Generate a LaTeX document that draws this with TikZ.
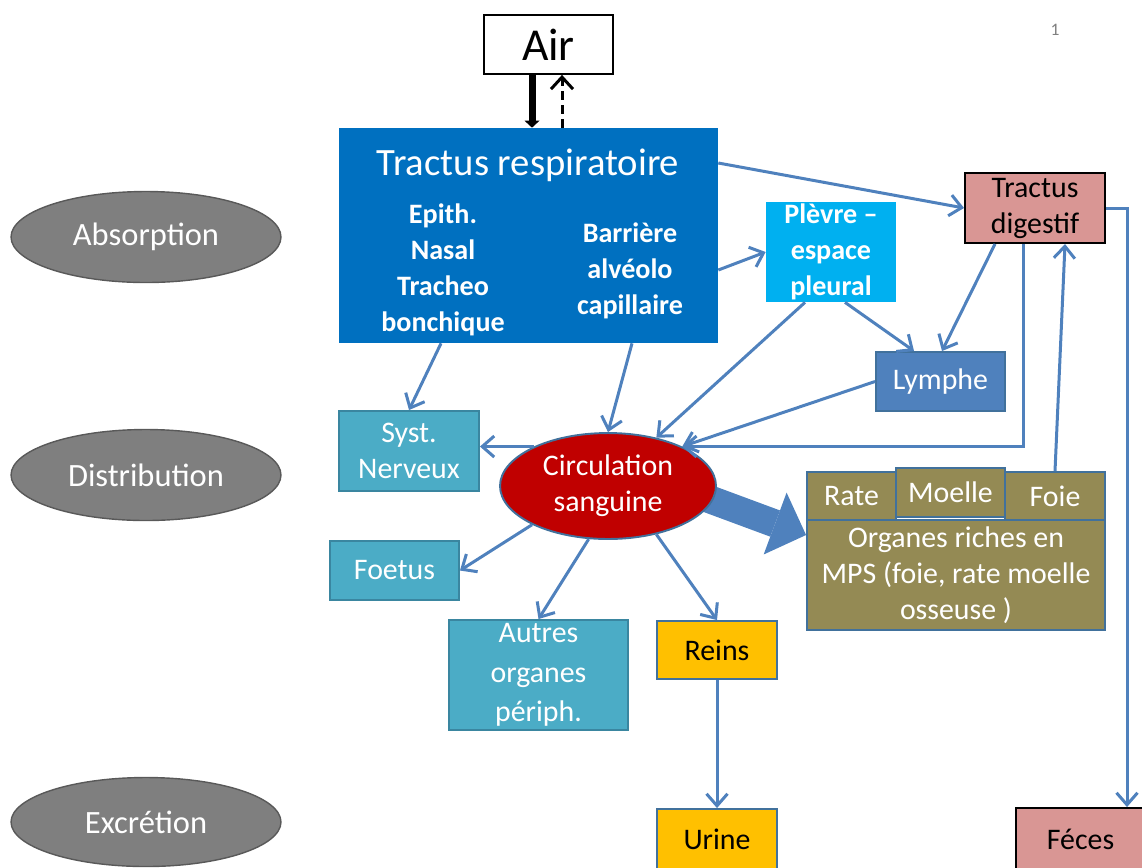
\documentclass[tikz,border=0pt]{standalone}
\usepackage{fontspec}
\setmainfont{Carlito}
\usetikzlibrary{arrows.meta,shapes.geometric}

\definecolor{respblue}{HTML}{0070C0}
\definecolor{plevblue}{HTML}{00B0F0}
\definecolor{lymblue}{HTML}{4F81BD}
\definecolor{linkblue}{HTML}{4F81BD}
\definecolor{edgeblue}{HTML}{41719C}
\definecolor{tealbox}{HTML}{4BACC6}
\definecolor{tealedge}{HTML}{3A86A0}
\definecolor{circred}{HTML}{C00000}
\definecolor{olivebox}{HTML}{948A54}
\definecolor{yellowbox}{HTML}{FFC000}
\definecolor{pinkbox}{HTML}{D99694}
\definecolor{phasegrey}{HTML}{7F7F7F}
\definecolor{phaseedge}{HTML}{595959}

\tikzset{
  txt/.style={font=\fontsize{17}{20.5}\selectfont},
  box/.style={draw=edgeblue, line width=1.1pt, fill=#1, align=center, inner sep=0pt, txt},
  boldtxt/.style={text=white, align=center, inner sep=0pt, font=\fontsize{16}{20.4}\selectfont\bfseries},
  phase/.style={ellipse, draw=phaseedge, line width=0.8pt, fill=phasegrey, text=white,
    minimum width=5.4cm, minimum height=1.82cm, font=\fontsize{18.5}{22}\selectfont},
  link/.style={draw=linkblue, line width=0.06cm, -{Straight Barb[length=0.24cm,width=0.42cm]}},
}

\begin{document}
\begin{tikzpicture}[x=0.02cm, y=-0.02cm]
  \useasboundingbox (0,0) rectangle (1142,867);

  % phases
  \node (absorp) at (146,237) [phase] {Absorption};
  \node (distrib) at (146,475) [phase] {Distribution};
  \node (excret) at (146,822) [phase, minimum height=1.78cm] {Excrétion};
  \node (pagenum) at (1055,30) [text=gray, font=\fontsize{10}{12}\selectfont] {1};

  % absorption
  \node (air) at (548.5,44.5) [draw, line width=1pt, minimum width=2.58cm, minimum height=1.18cm, font=\fontsize{26}{30}\selectfont] {Air};
  \node (resp) at (528.5,235.5) [fill=respblue, minimum width=7.58cm, minimum height=4.3cm] {};
  \node (resptitle) at (528,165) [text=white, font=\fontsize{22}{26}\selectfont] {Tractus respiratoire};
  \node (epith) at (443,270) [boldtxt] {Epith.\\Nasal\\Tracheo\\bonchique};
  \node (barrier) at (630,271) [boldtxt] {Barrière\\alvéolo\\capillaire};
  \node (plevre) at (831,252) [fill=plevblue, minimum width=2.6cm, minimum height=2cm] {};
  \node (plevtxt) at (831,252) [boldtxt, font=\fontsize{16}{20.4}\selectfont\bfseries] {Plèvre --\\espace\\pleural};
  \node (digest) at (1035,208) [box=pinkbox, draw=black, minimum width=2.8cm, minimum height=1.4cm] {Tractus\\digestif};
  \node (lymphe) at (940.5,381.5) [box=lymblue, text=white, minimum width=2.58cm, minimum height=1.18cm] {Lymphe};

  % distribution
  \coordinate (mpsout) at (690,492);
  \node (mps) at (956,575) [box=olivebox, text=white, minimum width=5.96cm, minimum height=2.2cm] {Organes riches en\\MPS (foie, rate moelle\\osseuse )};
  \draw[lymblue, line width=0.56cm, -{Triangle[length=0.66cm,width=1.32cm,line width=0pt]}] (mpsout) -- (mps.west |- 0,535);
  \node (circ) at (608,486) [ellipse, draw=edgeblue, line width=1.1pt, fill=circred, text=white, align=center, minimum width=4.32cm, minimum height=2.12cm, inner sep=0pt, txt] {Circulation\\sanguine};
  \node (nerv) at (409,451) [box=tealbox, draw=tealedge, text=white, minimum width=2.8cm, minimum height=1.6cm] {Syst.\\Nerveux};
  \node (foetus) at (394.5,570.5) [box=tealbox, draw=tealedge, text=white, minimum width=2.58cm, minimum height=1.18cm] {Foetus};
  \node (autres) at (538.5,675) [box=tealbox, draw=tealedge, text=white, minimum width=3.58cm, minimum height=2.2cm, font=\fontsize{17}{22.5}\selectfont] {Autres\\organes\\périph.};
  \node (rate) at (851.5,496) [box=olivebox, text=white, minimum width=1.78cm, minimum height=0.96cm] {Rate};
  \node (moelle) at (950.5,492.5) [box=olivebox, text=white, minimum width=2.18cm, minimum height=0.98cm] {Moelle};
  \node (foie) at (1055,496) [box=olivebox, text=white, minimum width=2cm, minimum height=0.96cm] {Foie};

  % excretion
  \node (reins) at (717,650) [box=yellowbox, minimum width=2.4cm, minimum height=1.16cm] {Reins};
  \node (urine) at (717,839) [box=yellowbox, minimum width=2.4cm, minimum height=1.2cm] {Urine};
  \node (feces) at (1080.5,839) [box=pinkbox, draw=black, minimum width=2.58cm, minimum height=1.24cm] {Féces};

  % air exchange
  \draw[line width=0.14cm, -{Triangle[length=0.14cm,width=0.3cm,line width=0pt]}] (air.south -| 532,0) -- (resp.north -| 532,0);
  \draw[line width=0.06cm, dash pattern=on 0.18cm off 0.1cm, -{Straight Barb[length=0.24cm,width=0.44cm]}] (resp.north -| 562,0) -- (air.south -| 562,0);

  % links
  \draw[link] (resp.east |- 0,163) -- (digest.west);
  \draw[link] (resp.east |- 0,270) -- (plevre.west);
  \draw[link] (resp.south -| 441,0) -- (nerv.north);
  \draw[link] (resp.south -| 632,0) -- (circ.north);
  \draw[link] (plevre.south -| 805,0) -- (circ.45);
  \draw[link] (plevre.south -| 845,0) -- (lymphe.north -| 914,0);
  \draw[link] (digest.south -| 995,0) -- (lymphe.north -| 942,0);
  \draw[link] (lymphe.west) -- (circ.28);
  \draw[link] (digest.south -| 1023,0) |- (circ.28);
  \draw[link] (foie.north) -- (digest.south -| 1065,0);
  \draw[link] (digest.east) -| (feces.north -| 1127,0);
  \draw[link] (circ.152) -- (nerv.east |- circ.152);
  \draw[link] (circ.207) -- (foetus.east);
  \draw[link] (circ.250) -- (autres.north);
  \draw[link] (circ.-45) -- (reins.north);
  \draw[link] (reins) -- (urine);
\end{tikzpicture}
\end{document}
